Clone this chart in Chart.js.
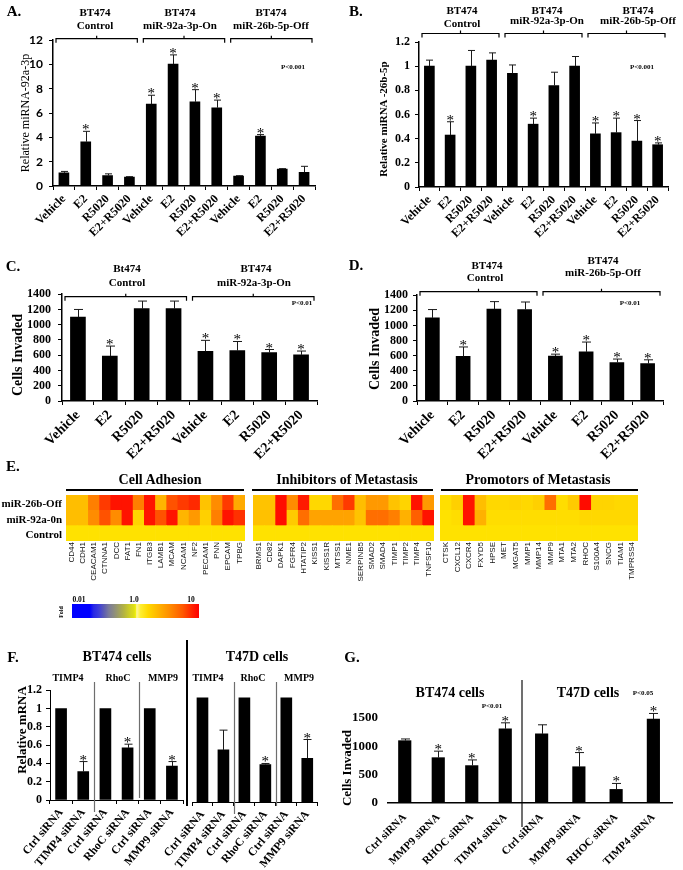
<!DOCTYPE html>
<html><head><meta charset="utf-8">
<script src="https://cdn.jsdelivr.net/npm/chart.js@4.4.1/dist/chart.umd.min.js"></script>
<style>
html,body{margin:0;padding:0;background:#fff;}
body{width:683px;height:870px;position:relative;overflow:hidden;font-family:"Liberation Serif",serif;color:#000;}
canvas{position:absolute;}
.c,.r,.lf,.v{position:absolute;white-space:nowrap;line-height:1;color:#000;filter:grayscale(1);}
.c{transform:translate(-50%,-50%);}
.r{transform:translate(-100%,-50%);}
.lf{transform:translate(0,-50%);}
.v{transform:translate(-50%,-50%) rotate(-90deg);}
.ln{position:absolute;}
</style></head><body>
<script>
// ---------------- DATA ----------------
const treatmentLabels = ['Vehicle','E2','R5020','E2+R5020','Vehicle','E2','R5020','E2+R5020','Vehicle','E2','R5020','E2+R5020'];
const treatmentLabels8 = ['Vehicle','E2','R5020','E2+R5020','Vehicle','E2','R5020','E2+R5020'];

const aMean = [1.08, 3.64, 0.86, 0.73, 6.74, 10.03, 6.93, 6.44, 0.81, 4.1, 1.4, 1.13];
const aErr  = [0.12, 0.86, 0.14, 0.04, 0.73, 0.76, 1.0, 0.63, 0.04, 0.13, 0.03, 0.49];
const aStar = [0,1,0,0, 1,1,1,1, 0,1,0,0];
const aTicks = [0,2,4,6,8,10,12];

const bMean = [1.0, 0.43, 1.0, 1.05, 0.94, 0.52, 0.84, 1.0, 0.44, 0.45, 0.38, 0.35];
const bErr  = [0.05, 0.11, 0.13, 0.06, 0.07, 0.05, 0.11, 0.08, 0.09, 0.12, 0.17, 0.015];
const bStar = [0,1,0,0, 0,1,0,0, 1,1,1,1];
const bTicks = [0,0.2,0.4,0.6,0.8,1,1.2];

const cMean = [1100, 590, 1210, 1210, 650, 660, 635, 605];
const cErr  = [100, 130, 100, 100, 145, 120, 40, 50];
const cStar = [0,1,0,0, 1,1,1,1];
const dMean = [1100, 590, 1215, 1210, 595, 650, 510, 495];
const dErr  = [110, 125, 100, 100, 25, 130, 45, 50];
const dStar = [0,1,0,0, 1,1,1,1];
const cdTicks = [0,200,400,600,800,1000,1200,1400];

const adhesionGenes = ['CD44','CDH1','CEACAM1','CTNNA1','DCC','FAT1','FN1','ITGB3','LAMB1','MCAM','NCAM1','NF2','PECAM1','PNN','EPCAM','TPBG'];
const adhesionOff  = [2.0,2.0,4.0,6.5,9,9,4.0,9,2.2,5.5,6.5,7.5,1.8,3.5,6.5,2.5];
const adhesionOn   = [2.0,2.0,3.5,5.5,3.5,9,1.3,9,5.5,9,2.2,3.0,1.4,4.0,9,7];
const adhesionCtrl = [1,1,1,1,1,1,1,1,1,1,1,1,1,1,1,1];
const inhibitorGenes = ['BRMS1','CD82','DAPK1','FGFR4','HTATIP2','KISS1','KISS1R','MTSS1','NME1','SERPINB5','SMAD2','SMAD4','TIMP1','TIMP2','TIMP4','TNFSF10'];
const inhibitorOff  = [1.8,1.8,9.5,3.5,8.5,1.2,1.2,4.5,6.5,2.0,3.0,3.0,1.8,1.3,9,3.0];
const inhibitorOn   = [1.9,1.9,9.5,1.6,4.5,2.7,2.7,2.7,2.7,1.8,4.5,4.5,4.0,2.3,5.0,9];
const inhibitorCtrl = [1,1,1,1,1,1,1,1,1,1,1,1,1,1,1,1];
const promotorGenes = ['CTSK','CXCL12','CXCR4','FXYD5','HPSE','MET','MGAT5','MMP1','MMP14','MMP9','MTA1','MTA2','RHOC','S100A4','SNCG','TIAM1','TMPRSS4'];
const promotorOff  = [1.05,1.4,9,2.0,1.2,1.2,1.3,1.2,1.4,4.5,1.1,1.6,9.5,1.3,1.3,1.2,1.2];
const promotorOn   = [1.0,1.1,9,2.3,1.1,1.1,1.1,1.1,1.1,1.1,1.1,1.1,1.2,1.2,1.2,1.2,1.2];
const promotorCtrl = [1,1,1,1,1,1,1,1,1,1,1,1,1,1,1,1,1];
const heatRows = ['miR-26b-Off','miR-92a-0n','Control'];

const fLabels = ['Ctrl siRNA','TIMP4 siRNA','Ctrl siRNA','RhoC siRNA','Ctrl siRNA','MMP9 siRNA'];
const fBtMean = [1, 0.31, 1, 0.57, 1, 0.37];
const fBtErr  = [0, 0.11, 0, 0.04, 0, 0.05];
const fBtStar = [0,1,0,1,0,1];
const fT47Mean = [1, 0.5, 1, 0.36, 1, 0.42];
const fT47Err  = [0, 0.19, 0, 0.01, 0, 0.18];
const fT47Star = [0,0,0,1,0,1];
const fTicks = [0,0.2,0.4,0.6,0.8,1,1.2];

const gLabels = ['Ctrl siRNA','MMP9 siRNA','RHOC siRNA','TIMP4 siRNA'];
const gBtMean = [1100, 800, 660, 1310];
const gBtErr  = [30, 115, 100, 105];
const gBtStar = [0,1,1,1];
const gT47Mean = [1220, 640, 240, 1480];
const gT47Err  = [160, 250, 105, 100];
const gT47Star = [0,1,1,1];
const gTicks = [0,500,1000,1500];

// ---------------- HELPERS ----------------
const SERIF = "'Liberation Serif', 'Times New Roman', serif";
Chart.defaults.font.family = SERIF;
Chart.defaults.color = '#000';

function T(s, x, y, size, weight, cls, family) {
  const d = document.createElement('div');
  d.className = cls || 'c';
  d.textContent = s;
  d.style.left = x + 'px'; d.style.top = y + 'px';
  d.style.font = (weight || 'bold') + ' ' + size + 'px ' + (family || SERIF);
  document.body.appendChild(d);
  return d;
}
function LN(x, y, w, h, color) {
  const d = document.createElement('div');
  d.className = 'ln';
  d.style.left = x + 'px'; d.style.top = y + 'px';
  d.style.width = w + 'px'; d.style.height = h + 'px';
  d.style.background = color || '#000';
  document.body.appendChild(d);
}

const deco = {
  id: 'deco',
  afterDatasetsDraw(chart, args, o) {
    const ctx = chart.ctx, xs = chart.scales.x, ys = chart.scales.y;
    const ds = chart.data.datasets[0];
    ctx.save();
    const cap = o.cap || 7;
    if (ds.errors) ds.errors.forEach((e, i) => {
      if (!e) return;
      const px = Math.round(xs.getPixelForValue(i)) + 0.5;
      const t = ys.getPixelForValue(ds.data[i] + e), b = ys.getPixelForValue(ds.data[i]);
      ctx.strokeStyle = '#1a1a1a'; ctx.lineWidth = 1;
      ctx.beginPath(); ctx.moveTo(px, b); ctx.lineTo(px, t);
      ctx.moveTo(px - cap / 2, t); ctx.lineTo(px + cap / 2, t); ctx.stroke();
    });
    if (ds.stars) ds.stars.forEach((s, i) => {
      if (!s) return;
      const px = xs.getPixelForValue(i);
      const t = ys.getPixelForValue(ds.data[i] + (ds.errors ? ds.errors[i] : 0));
      ctx.fillStyle = '#000'; ctx.font = (o.starSize || 15) + 'px ' + SERIF;
      ctx.textAlign = 'center'; ctx.textBaseline = 'alphabetic';
      ctx.fillText('*', px, t + 3);
    });
    const half = (xs.getPixelForValue(1) - xs.getPixelForValue(0)) / 2;
    if (o.groups) o.groups.forEach(([a, b]) => {
      const x1 = xs.getPixelForValue(a) - half + 3, x2 = xs.getPixelForValue(b) + half - 3;
      const by = chart.chartArea.top + o.bracketDy + 0.5, mid = (x1 + x2) / 2;
      ctx.strokeStyle = '#000'; ctx.lineWidth = 1.2;
      ctx.beginPath(); ctx.moveTo(x1, by + 4); ctx.lineTo(x1, by); ctx.lineTo(x2, by); ctx.lineTo(x2, by + 4);
      ctx.moveTo(mid, by); ctx.lineTo(mid, by - 3); ctx.stroke();
    });
    if (o.dividers) o.dividers.forEach(([k, y1, y2]) => {
      const px = Math.round((xs.getPixelForValue(k) + xs.getPixelForValue(k + 1)) / 2) + 0.5;
      ctx.strokeStyle = '#6e6e6e'; ctx.lineWidth = 1.2;
      ctx.beginPath(); ctx.moveTo(px, y1 - o.canvasTop); ctx.lineTo(px, y2 - o.canvasTop); ctx.stroke();
    });
    ctx.restore();
  }
};

function mkCanvas(o) {
  const c = document.createElement('canvas');
  const left = o.L - o.yw, top = o.T - o.pt;
  const w = (o.R - o.L) + o.yw + o.pr, h = (o.B - o.T) + o.pt + o.xh;
  c.width = w; c.height = h;
  c.style.left = left + 'px'; c.style.top = top + 'px';
  c.style.width = w + 'px'; c.style.height = h + 'px';
  document.body.appendChild(c);
  return {c, top};
}

function barChart(o) {
  const {c, top} = mkCanvas(o);
  new Chart(c, {
    type: 'bar',
    data: { labels: o.labels, datasets: [{ data: o.values, errors: o.errors, stars: o.stars,
      backgroundColor: '#000', borderWidth: 0, barThickness: o.bw }] },
    options: {
      responsive: false, animation: false, devicePixelRatio: 1,
      layout: { padding: { top: o.pt, right: o.pr, left: 0, bottom: 0 } },
      plugins: { legend: { display: false }, tooltip: { enabled: false },
        deco: { cap: o.cap, groups: o.groups, bracketDy: o.bracketDy, dividers: o.dividers, canvasTop: top, starSize: o.starSize } },
      scales: {
        x: {
          offset: true,
          border: { display: true, color: '#000', width: o.axisW || 1.5 },
          grid: { display: o.xTickMarks !== false, drawOnChartArea: false, drawTicks: true, tickLength: 4, color: '#000', offset: true },
          ticks: { autoSkip: false, maxRotation: o.rot, minRotation: o.rot, font: o.xFont, color: '#000', padding: o.xPad || 2 },
          afterFit: s => { s.height = o.xh; }
        },
        y: {
          min: 0, max: o.max,
          border: { display: !!o.yAxis, color: '#000', width: o.axisW || 1.5 },
          grid: { display: !!o.yAxis, drawOnChartArea: false, drawTicks: true, tickLength: 4, color: '#000' },
          ticks: { display: !!o.yTicks, autoSkip: false, font: o.yFont, color: '#000', padding: o.yPad || 4, callback: v => String(v) },
          afterBuildTicks: s => { s.ticks = (o.yTicks || []).map(v => ({ value: v })); },
          afterFit: s => { s.width = o.yw; }
        }
      }
    },
    plugins: [deco]
  });
}

const foldStops = [[0, [255, 226, 0]], [0.3, [255, 190, 0]], [0.6, [255, 128, 0]], [0.8, [255, 62, 0]], [1, [255, 6, 0]]];
function foldColor(f) {
  const t = Math.min(1, Math.max(0, Math.log10(f)));
  for (let i = 1; i < foldStops.length; i++) {
    if (t <= foldStops[i][0]) {
      const [t0, c0] = foldStops[i - 1], [t1, c1] = foldStops[i];
      const u = (t - t0) / (t1 - t0);
      return 'rgb(' + c0.map((c, k) => Math.round(c + (c1[k] - c) * u)).join(',') + ')';
    }
  }
  return 'rgb(255,6,0)';
}

function heatChart(o) {
  const {c} = mkCanvas(o);
  const CELL = 1;
  const rowsBottomUp = [o.ctrl, o.on, o.off];
  new Chart(c, {
    type: 'bar',
    data: { labels: o.genes, datasets: rowsBottomUp.map(r => ({
      data: o.genes.map(() => CELL), backgroundColor: r.map(foldColor),
      borderWidth: 0, barPercentage: 1, categoryPercentage: 1 })) },
    options: {
      responsive: false, animation: false, devicePixelRatio: 1,
      layout: { padding: { top: o.pt, right: o.pr, left: 0, bottom: 0 } },
      plugins: { legend: { display: false }, tooltip: { enabled: false } },
      scales: {
        x: { stacked: true, offset: true, border: { display: false }, grid: { display: false },
          ticks: { autoSkip: false, maxRotation: 90, minRotation: 90, padding: -7,
            font: { family: "'Liberation Sans', Arial, sans-serif", size: 8 }, color: '#111' },
          afterFit: s => { s.height = o.xh; } },
        y: { stacked: true, min: 0, max: 3, border: { display: false }, grid: { display: false },
          ticks: { display: false }, afterFit: s => { s.width = o.yw; } }
      }
    }
  });
}

// ---------------- PANEL A ----------------
T('A.', 14, 11, 15, 'bold');
T('BT474', 95, 12, 11, 'bold'); T('Control', 95, 25, 11, 'bold');
T('BT474', 180, 12, 11, 'bold'); T('miR-92a-3p-On', 180, 25, 11, 'bold');
T('BT474', 271, 12, 11, 'bold'); T('miR-26b-5p-Off', 271, 25, 11, 'bold');
T('P<0.001', 293, 67, 7, 'bold');
T('Relative miRNA-92a-3p', 25, 113, 12, 'normal', 'v');
barChart({ L: 53, R: 315, T: 37, B: 186, yw: 53, pt: 10, pr: 4, xh: 56,
  labels: treatmentLabels, values: aMean, errors: aErr, stars: aStar, bw: 10, cap: 7,
  max: 12, yTicks: aTicks, yAxis: true, yPad: 6,
  yFont: { family: "Lato, 'Open Sans', sans-serif", weight: 'bold', size: 12 },
  xFont: { family: SERIF, weight: 'bold', size: 12 }, rot: 45,
  groups: [[0, 3], [4, 7], [8, 11]], bracketDy: -2 });

// ---------------- PANEL B ----------------
T('B.', 356, 11, 15, 'bold');
T('BT474', 462, 10, 11, 'bold'); T('Control', 462, 23, 11, 'bold');
T('BT474', 547, 10, 11, 'bold'); T('miR-92a-3p-On', 547, 20, 11, 'bold');
T('BT474', 638, 10, 11, 'bold'); T('miR-26b-5p-Off', 638, 20, 11, 'bold');
T('P<0.001', 642, 67, 7, 'bold');
T('Relative miRNA -26b-5p', 383, 119, 11, 'bold', 'v');
barChart({ L: 419, R: 668, T: 42, B: 187, yw: 50, pt: 14, pr: 4, xh: 54,
  labels: treatmentLabels, values: bMean, errors: bErr, stars: bStar, bw: 10, cap: 7,
  max: 1.2, yTicks: bTicks, yAxis: true, yPad: 5,
  yFont: { family: SERIF, weight: 'bold', size: 12 },
  xFont: { family: SERIF, weight: 'bold', size: 12 }, rot: 45,
  groups: [[0, 3], [4, 7], [8, 11]], bracketDy: -9 });

// ---------------- PANEL C ----------------
T('C.', 13, 266, 15, 'bold');
T('Bt474', 127, 268, 11, 'bold'); T('Control', 127, 282, 11, 'bold');
T('BT474', 256, 268, 11, 'bold'); T('miR-92a-3p-On', 254, 282, 11, 'bold');
T('P<0.01', 302, 303, 7, 'bold');
T('Cells Invaded', 18, 355, 14, 'bold', 'v');
barChart({ L: 62, R: 317, T: 290, B: 401, yw: 62, pt: 10, pr: 4, xh: 62,
  labels: treatmentLabels8, values: cMean, errors: cErr, stars: cStar, bw: 15, cap: 9,
  max: 1400, yTicks: cdTicks, yAxis: true, yPad: 7,
  yFont: { family: SERIF, weight: 'bold', size: 12 },
  xFont: { family: SERIF, weight: 'bold', size: 14 }, rot: 45,
  groups: [[0, 3], [4, 7]], bracketDy: 2 });

// ---------------- PANEL D ----------------
T('D.', 356, 265, 15, 'bold');
T('BT474', 487, 265, 11, 'bold'); T('Control', 485, 277, 11, 'bold');
T('BT474', 603, 260, 11, 'bold'); T('miR-26b-5p-Off', 603, 272, 11, 'bold');
T('P<0.01', 630, 303, 7, 'bold');
T('Cells Invaded', 375, 349, 14, 'bold', 'v');
barChart({ L: 417, R: 663, T: 293, B: 401, yw: 60, pt: 10, pr: 4, xh: 62,
  labels: treatmentLabels8, values: dMean, errors: dErr, stars: dStar, bw: 14, cap: 9,
  max: 1400, yTicks: cdTicks, yAxis: true, yPad: 5,
  yFont: { family: SERIF, weight: 'bold', size: 12 },
  xFont: { family: SERIF, weight: 'bold', size: 14 }, rot: 45,
  groups: [[0, 3], [4, 7]], bracketDy: -4 });

// ---------------- PANEL E ----------------
T('E.', 13, 466, 15, 'bold');
T('Cell Adhesion', 160, 480, 14, 'bold');
T('Inhibitors of Metastasis', 347, 480, 14, 'bold');
T('Promotors of Metastasis', 538, 480, 14, 'bold');
LN(66, 489, 178, 2); LN(252, 489, 181, 2); LN(441, 489, 197, 2);
T(heatRows[0], 62, 503, 11, 'bold', 'r');
T(heatRows[1], 62, 519, 11, 'bold', 'r');
T(heatRows[2], 62, 534, 11, 'bold', 'r');
heatChart({ L: 66, R: 245, T: 495, B: 541, yw: 8, pt: 0, pr: 0, xh: 52,
  genes: adhesionGenes, off: adhesionOff, on: adhesionOn, ctrl: adhesionCtrl });
heatChart({ L: 253, R: 434, T: 495, B: 541, yw: 8, pt: 0, pr: 0, xh: 52,
  genes: inhibitorGenes, off: inhibitorOff, on: inhibitorOn, ctrl: inhibitorCtrl });
heatChart({ L: 440, R: 638, T: 495, B: 541, yw: 8, pt: 0, pr: 0, xh: 52,
  genes: promotorGenes, off: promotorOff, on: promotorOn, ctrl: promotorCtrl });
// colour key
(function () {
  const d = document.createElement('div');
  d.className = 'ln';
  d.style.left = '72px'; d.style.top = '604px'; d.style.width = '127px'; d.style.height = '14px';
  d.style.background = 'linear-gradient(to right,#0000ff 0%,#0000ff 14%,#2828e6 17%,#3c3cdc 21%,#5a5ab4 25%,#7a7a9a 29%,#8c8c80 33%,#a0a060 37%,#b4b440 41%,#cccc28 45%,#e0e014 49%,#f0f010 50%,#fff59a 51%,#ffee30 54%,#ffd800 60%,#ffb400 68%,#ff8c00 77%,#ff5a00 87%,#ff2000 95%,#ff0000 100%)';
  document.body.appendChild(d);
})();
T('0.01', 79, 599, 7.5, 'bold'); T('1.0', 134, 599, 7.5, 'bold'); T('10', 191, 599, 7.5, 'bold');
T('Fold', 61, 612, 6, 'bold', 'v');

// ---------------- PANEL F ----------------
T('F.', 13, 657, 15, 'bold');
T('BT474 cells', 117, 657, 14, 'bold');
T('T47D cells', 257, 657, 14, 'bold');
T('TIMP4', 68, 677, 10, 'bold'); T('RhoC', 118, 677, 10, 'bold'); T('MMP9', 163, 677, 10, 'bold');
T('TIMP4', 208, 677, 10, 'bold'); T('RhoC', 253, 677, 10, 'bold'); T('MMP9', 299, 677, 10, 'bold');
LN(186, 640, 2, 166, '#000');
T('Relative mRNA', 22, 730, 13, 'bold', 'v');
barChart({ L: 50, R: 183, T: 689, B: 800, yw: 50, pt: 10, pr: 2, xh: 70,
  labels: fLabels, values: fBtMean, errors: fBtErr, stars: fBtStar, bw: 11, cap: 8,
  max: 1.2, yTicks: fTicks, yAxis: true, yPad: 4, axisW: 1,
  yFont: { family: SERIF, weight: 'bold', size: 12 },
  xFont: { family: SERIF, weight: 'bold', size: 11.5 }, rot: 50,
  dividers: [[1, 682, 812], [3, 682, 798]] });
barChart({ L: 192, R: 318, T: 677, B: 802, yw: 44, pt: 10, pr: 2, xh: 68,
  labels: fLabels, values: fT47Mean, errors: fT47Err, stars: fT47Star, bw: 11, cap: 8,
  max: 1.2, yAxis: false, axisW: 1,
  xFont: { family: SERIF, weight: 'bold', size: 11.5 }, rot: 50,
  dividers: [[1, 682, 814], [3, 682, 806]] });

// ---------------- PANEL G ----------------
T('G.', 352, 657, 15, 'bold');
T('Cells Invaded', 347, 768, 13, 'bold', 'v');
T('BT474 cells', 450, 693, 14, 'bold');
T('T47D cells', 588, 693, 14, 'bold');
T('P<0.05', 643, 693, 7, 'bold');
T('P<0.01', 492, 706, 7, 'bold');
LN(521, 680, 2, 147, '#707070');
barChart({ L: 388, R: 522, T: 718, B: 803, yw: 38, pt: 34, pr: 0, xh: 67,
  labels: gLabels, values: gBtMean, errors: gBtErr, stars: gBtStar, bw: 12.5, cap: 9,
  max: 1500, yTicks: gTicks, yAxis: false, yPad: 6, xTickMarks: false,
  yFont: { family: SERIF, weight: 'bold', size: 13 },
  xFont: { family: SERIF, weight: 'bold', size: 11 }, rot: 45, xPad: 4 });
barChart({ L: 523, R: 672, T: 718, B: 803, yw: 46, pt: 34, pr: 2, xh: 67,
  labels: gLabels, values: gT47Mean, errors: gT47Err, stars: gT47Star, bw: 12.5, cap: 9,
  max: 1500, yAxis: false, xTickMarks: false,
  xFont: { family: SERIF, weight: 'bold', size: 11 }, rot: 45, xPad: 4 });
</script>
</body></html>
